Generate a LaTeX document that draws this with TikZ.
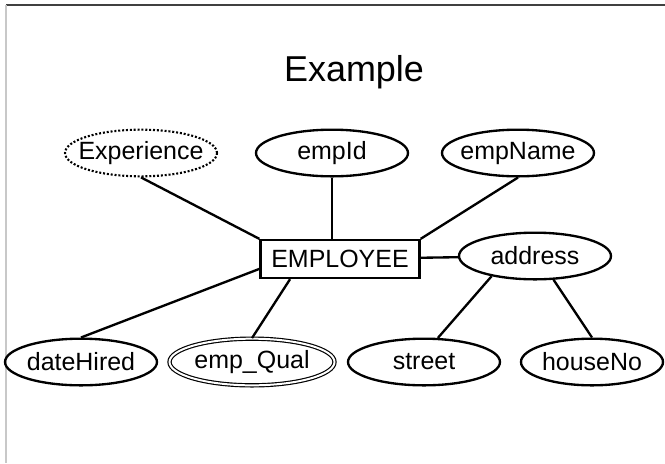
\documentclass[tikz,border=0pt]{standalone}
\usepackage{fontspec}
\setmainfont{Liberation Sans}
\usepackage{tikz}
\usetikzlibrary{shapes.geometric}
\definecolor{bord}{RGB}{64,64,64}
\definecolor{bordclair}{RGB}{200,200,200}
\tikzset{
  attrib/.style={ellipse,draw,line width=2pt,inner xsep=-0.28cm,inner ysep=0pt,
    minimum width=4.56cm,minimum height=1.4cm,font=\fontsize{21.3}{25}\selectfont},
  derive/.style={attrib,line width=1.8pt,dash pattern=on 1.7pt off 1.6pt},
  multival/.style={attrib,line width=1pt,double,double distance=1.7pt},
  entite/.style={rectangle,draw,line width=2pt,inner sep=0pt,
    minimum width=4.77cm,minimum height=1.14cm,font=\fontsize{21.3}{25}\selectfont},
  lien/.style={line width=2pt}
}
\begin{document}
\begin{tikzpicture}[x=0.03cm,y=-0.03cm]
      \useasboundingbox (0,0) rectangle (665,463);
      \draw[bord,line width=1.2pt](6,5)--(665,5);
      \draw[bordclair,line width=1.2pt](6,5)--(6,463);
      \node[font=\fontsize{30.7}{36}\selectfont] (titre) at (354,72){Example};
      \node[derive] (exp) at (141,153){Experience};
      \node[attrib] (empid) at (332,153){empId};
      \node[attrib] (empname) at (518,153){empName};
      \node[entite] (employee) at (340,259){EMPLOYEE};
      \node[attrib] (address) at (535,256){address};
      \node[attrib] (datehired) at (81,362){dateHired};
      \node[multival,minimum width=4.95cm] (empqual) at (252,362){emp\_Qual};
      \node[attrib] (street) at (424,362){street};
      \node[attrib,minimum width=4.26cm] (houseno) at (592,362){houseNo};
      \draw[lien](empid.south)--(empid.south|-employee.north);
      \foreach \a/\b in {exp.south/employee.north west,
          empname.south/employee.north east,employee/address,
          employee.187/datehired.north,employee.202/empqual.north,
          address.205/street.60,address.308/houseno.north}
        {\draw[lien](\a)--(\b);}
\end{tikzpicture}
\end{document}
